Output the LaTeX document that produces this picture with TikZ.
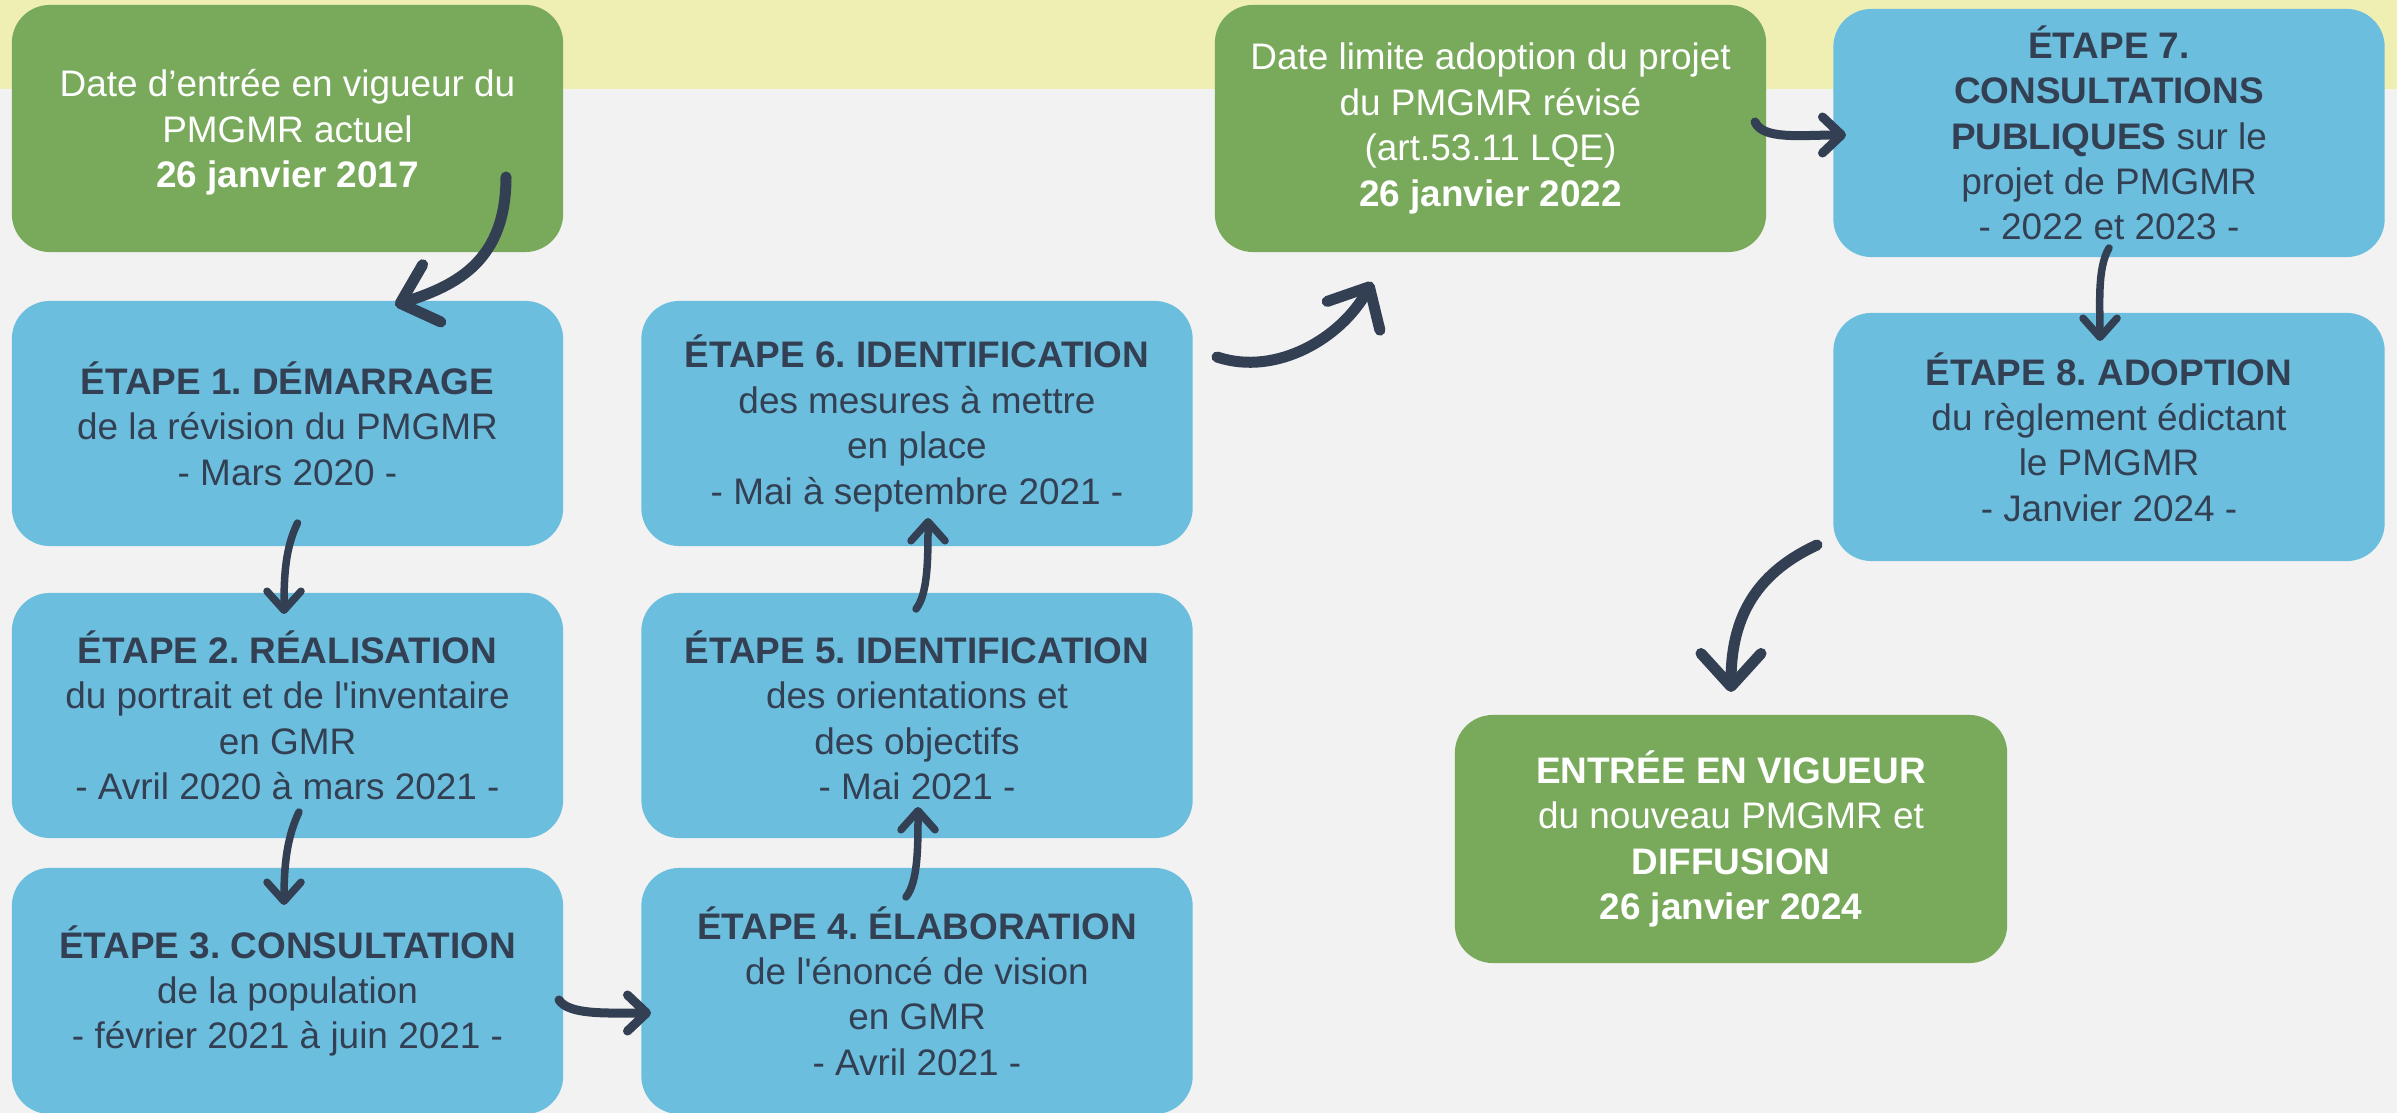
\documentclass[tikz,border=0pt]{standalone}
\usepackage{fontspec}
\setmainfont{Liberation Sans}[Ligatures=TeXOff]
\usetikzlibrary{arrows.meta,calc}
\definecolor{bgc}{HTML}{F2F2F2}
\definecolor{bandc}{HTML}{EFEFB4}
\definecolor{bluec}{HTML}{6BBEDD}
\definecolor{greenc}{HTML}{79AA5C}
\definecolor{navyc}{HTML}{333F52}
\frenchspacing
\tikzset{
  box/.style={rounded corners=0.38cm, minimum width=5.51cm, minimum height=2.47cm,
    inner sep=0pt, align=center, font=\fontsize{10.5pt}{12.9pt}\selectfont},
  bluebox/.style={box, fill=bluec, text=navyc},
  greenbox/.style={box, fill=greenc, text=white},
  bigarrow/.style={draw=navyc, line width=0.11cm, line cap=round,
    -{Straight Barb[length=0.33cm, width=0.6cm, round]}},
  smallarrow/.style={draw=navyc, line width=0.075cm, line cap=round,
    -{Straight Barb[length=0.19cm, width=0.34cm, round]}},
  midarrow/.style={draw=navyc, line width=0.09cm, line cap=round,
    -{Straight Barb[length=0.19cm, width=0.36cm, round]}}
}
\begin{document}
\begin{tikzpicture}[x=0.01cm, y=-0.01cm]
\useasboundingbox (0,0) rectangle (2397,1113);
\fill[bgc] (0,0) rectangle (2397,1113);
\fill[bandc] (0,0) rectangle (2397,89);

\node[greenbox] (g0) at (287.5,128.5) {\\[-0.1cm]Date d’entrée en vigueur du\\PMGMR actuel\\\textbf{26 janvier 2017}};
\node[bluebox, minimum height=2.45cm] (s1) at (287.5,423.5) {\textbf{ÉTAPE 1. DÉMARRAGE}\\de la révision du PMGMR\\- Mars 2020 -};
\node[bluebox, minimum height=2.45cm] (s2) at (287.5,715.5) {\textbf{ÉTAPE 2. RÉALISATION}\\du portrait et de l'inventaire\\en GMR\\- Avril 2020 à mars 2021 -};
\node[bluebox, minimum height=2.46cm] (s3) at (287.5,991) {\textbf{ÉTAPE 3. CONSULTATION}\\de la population\\- février 2021 à juin 2021 -};
\node[bluebox, minimum height=2.46cm] (s4) at (917,991) {\textbf{ÉTAPE 4. ÉLABORATION}\\de l'énoncé de vision\\en GMR\\- Avril 2021 -};
\node[bluebox, minimum height=2.45cm] (s5) at (917,715.5) {\textbf{ÉTAPE 5. IDENTIFICATION}\\des orientations et\\des objectifs\\- Mai 2021 -};
\node[bluebox, minimum height=2.45cm] (s6) at (917,423.5) {\textbf{ÉTAPE 6. IDENTIFICATION}\\des mesures à mettre\\en place\\- Mai à septembre 2021 -};
\node[greenbox] (g2) at (1490.5,128.5) {Date limite adoption du projet\\du PMGMR révisé\\(art.53.11 LQE)\\\textbf{26 janvier 2022}};
\node[bluebox, minimum height=2.48cm] (s7) at (2109,133) {\textbf{ÉTAPE 7.}\\\textbf{CONSULTATIONS}\\\textbf{PUBLIQUES} sur le\\projet de PMGMR\\- 2022 et 2023 -};
\node[bluebox, minimum height=2.48cm] (s8) at (2109,437) {\textbf{ÉTAPE 8. ADOPTION}\\du règlement édictant\\le PMGMR\\- Janvier 2024 -};
\node[greenbox, minimum width=5.52cm, minimum height=2.48cm] (g3) at (1731,839) {\textbf{ENTRÉE EN VIGUEUR}\\du nouveau PMGMR et\\\textbf{DIFFUSION}\\\textbf{26 janvier 2024}};

\draw[bigarrow] ($(g0)+(218.5,48.5)$) .. controls +(0,83) and +(63,-20) .. ($(s1)+(107.5,-118.5)$);
\draw[smallarrow] ($(s1)+(10,99.5)$) .. controls +(-12,25) and +(0,-40) .. ($(s2)+(-3.5,-101.5)$);
\draw[smallarrow] ($(s2)+(11.5,96.5)$) .. controls +(-12,25) and +(0,-40) .. ($(s3)+(-3.5,-86)$);
\draw[midarrow] ($(s3)+(271.5,9)$) .. controls +(10,15) and +(-45,0) .. ($(s4)+(-266,22)$);
\draw[smallarrow] ($(s4)+(-11,-94)$) .. controls +(12,-15) and +(0,40) .. ($(s5)+(1,91.5)$);
\draw[smallarrow] ($(s5)+(-1,-106.5)$) .. controls +(12,-15) and +(0,40) .. ($(s6)+(11,94.5)$);
\draw[bigarrow] ($(s6)+(300,-66.5)$) .. controls +(60,20) and +(-30,55) .. ($(g2)+(-118.5,153.5)$);
\draw[midarrow] ($(g2)+(264.5,-6.5)$) .. controls +(8,18) and +(-45,0) .. ($(s7)+(-263,2)$);
\draw[smallarrow] ($(s7)+(0,115)$) .. controls +(-12,20) and +(0,-35) .. ($(s8)+(-9,-96)$);
\draw[bigarrow] ($(s8)+(-292,108)$) .. controls +(-65,30) and +(0,-70) .. ($(g3)+(0,-147)$);
\end{tikzpicture}
\end{document}
